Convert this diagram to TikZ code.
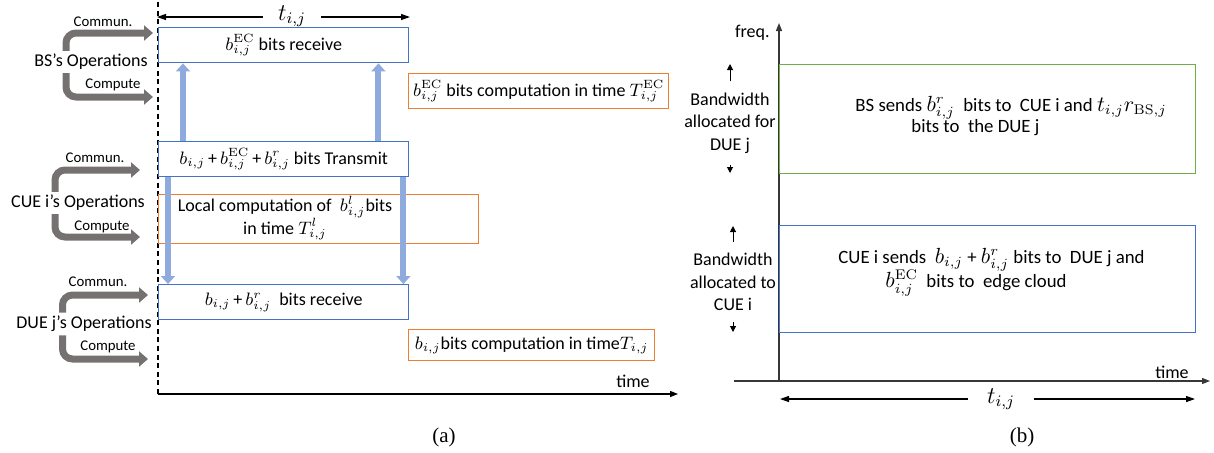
\documentclass[tikz,border=0pt]{standalone}
\usepackage[no-math]{fontspec}
\setmainfont{Carlito}
\newfontfamily\capfont{Liberation Serif}
\usetikzlibrary{arrows.meta,positioning,calc}

\definecolor{boxblue}{RGB}{68,114,196}
\definecolor{boxorange}{RGB}{237,125,49}
\definecolor{boxgreen}{RGB}{112,173,71}
\definecolor{arrblue}{RGB}{143,170,220}
\definecolor{opgray}{RGB}{118,113,113}
\definecolor{axgray}{RGB}{55,55,55}

% slightly larger maths inside the bandwidth boxes
\newcommand{\bmath}[1]{{\fontsize{10.6}{12}\selectfont$#1$}}

\tikzset{
  txt/.style={font=\fontsize{9}{11.25}\selectfont, inner sep=1.5pt},
  bwtxt/.style={font=\fontsize{9.4}{11.25}\selectfont, inner sep=1.5pt, anchor=west},
  small/.style={font=\fontsize{7.4}{9}\selectfont, inner sep=1pt},
  captxt/.style={font=\capfont\fontsize{10.5}{12}\selectfont},
  tlab/.style={font=\fontsize{12}{14}\selectfont, inner sep=0pt, outer sep=0pt},
  opbox/.style={draw=boxblue, line width=0.7pt, anchor=north west, inner sep=0pt,
    font=\fontsize{9}{11.25}\selectfont},
  cpbox/.style={opbox, draw=boxorange},
  gryarr/.style={draw=opgray, line width=3.5pt, rounded corners=5pt,
    -{Triangle[length=4.5pt,width=7.5pt]}},
  bluarr/.style={draw=arrblue, line width=3pt, -{Triangle[length=4pt,width=7pt]}},
  axis/.style={draw=black, line width=0.6pt, -{Triangle[length=4pt,width=3pt]}},
  span/.style={line width=0.6pt, -{Triangle[length=4.5pt,width=3pt]}},
  tick/.style={line width=0.5pt, shorten <=4pt, -{Triangle[length=3pt,width=3pt]}}
}

\begin{document}
\begin{tikzpicture}[x=0.5pt,y=-0.5pt]
\useasboundingbox (0,0) rectangle (1214,452);

% ---------- (a) operations over one slot ----------
\coordinate (tL) at (157,17);
\coordinate (tR) at (410,17);
\coordinate (ta0) at (158,394);
\coordinate (ta1) at (678,394);
\node[tlab, inner xsep=7.5pt] (tij) at (292,16) {$t_{i,j}$};
\draw[span] (tij.west |- tL) -- (tL);
\draw[span] (tij.east |- tR) -- (tR);
\draw[line width=0.6pt, dash pattern=on 2.5pt off 1.8pt] (158,2) -- (ta0);
\draw[axis] (ta0) -- (ta1);
\node[txt] (tatime) at (633,381) {time};

% boxes
\node[opbox, minimum width=125pt, minimum height=17.5pt] (bsrx) at (158,27)
  {$b^{\mathrm{EC}}_{i,j}$ bits receive};
\node[cpbox, minimum width=130pt, minimum height=17.5pt] (bsec) at (408,73)
  {$b^{\mathrm{EC}}_{i,j}$ bits computation in time $T^{\mathrm{EC}}_{i,j}$};
\node[opbox, minimum width=125pt, minimum height=17.5pt] (cuetx) at (158,141)
  {$b_{i,j}$\,+\,$b^{\mathrm{EC}}_{i,j}$\,+\,$b^{r}_{i,j}$ bits Transmit};
\node[cpbox, minimum width=160pt, minimum height=24.5pt] (cueloc) at (158,194) {};
\node[txt, align=center] (cueloctxt) at (285,218)
  {Local computation of\ \ $b^{l}_{i,j}$bits\\in time $T^{l}_{i,j}$};
\node[opbox, minimum width=125pt, minimum height=17.5pt] (duerx) at (158,284)
  {$b_{i,j}$\,+\,$b^{r}_{i,j}$\ \ bits receive};
\node[cpbox, minimum width=123pt, minimum height=15.5pt] (duec) at (408,329)
  {$b_{i,j}$bits computation in time$T_{i,j}$};

% transfers between the devices
\draw[bluarr] ([xshift=12.5pt]cuetx.north west) -- ([xshift=12.5pt]bsrx.south west);
\draw[bluarr] ([xshift=-15.5pt]cuetx.north east) -- ([xshift=-15.5pt]bsrx.south east);
\draw[bluarr] ([xshift=5pt]cuetx.south west) -- ([xshift=5pt]duerx.north west);
\draw[bluarr] ([xshift=-3pt]cuetx.south east) -- ([xshift=-3pt]duerx.north east);

% device labels
\node[txt] (bsop) at (91,62) {BS’s Operations};
\node[txt] (cueop) at (78,203) {CUE i’s Operations};
\node[txt] (dueop) at (84,324) {DUE j’s Operations};
\coordinate (bsC) at (153,33);
\coordinate (bsP) at (153,97);
\coordinate (cueC) at (140,170);
\coordinate (cueP) at (140,237);
\coordinate (dueC) at (148,295);
\coordinate (dueP) at (148,359);
\draw[gryarr] ([xshift=-12.5pt]bsop.north) |- (bsC);
\draw[gryarr] ([xshift=-12.5pt]bsop.south) |- (bsP);
\draw[gryarr] ([xshift=-11.5pt]cueop.north) |- (cueC);
\draw[gryarr] ([xshift=-11.5pt]cueop.south) |- (cueP);
\draw[gryarr] ([xshift=-10.75pt]dueop.north) |- (dueC);
\draw[gryarr] ([xshift=-10.75pt]dueop.south) |- (dueP);
\node[small] (bscom) at (103,22) {Commun.};
\node[small] (bscmp) at (113,85) {Compute};
\node[small] (cuecom) at (95,158) {Commun.};
\node[small] (cuecmp) at (102,227) {Compute};
\node[small] (duecom) at (98,282) {Commun.};
\node[small] (duecmp) at (108,347) {Compute};

\node[captxt] (capa) at (444,437) {(a)};

% ---------- (b) bandwidth split ----------
\coordinate (fO) at (779,381);
\coordinate (fT) at (779,23);
\coordinate (tb0) at (734,381);
\coordinate (tb1) at (1210,381);
\draw[axis, draw=axgray] (fO) -- (fT);
\draw[axis, draw=axgray] (tb0) -- (tb1);
\node[txt, anchor=east] (freq) at (773,33) {freq.};
\node[txt] (tbtime) at (1172,372) {time};

\node[opbox, draw=boxgreen, minimum width=208pt, minimum height=54.5pt] (dueband) at (779,64) {};
\node[bwtxt] (bstxt1) at (852,108)
  {BS sends \bmath{b^{r}_{i,j}}\ \ bits to\ \ CUE i and \bmath{t_{i,j}r_{\mathrm{BS},j}}};
\node[bwtxt] (bstxt2) at (908,128) {bits to\ \ the DUE j};

\node[opbox, minimum width=208pt, minimum height=53.5pt] (cueband) at (779,225) {};
\node[bwtxt] (cuetxt1) at (835,260)
  {CUE i sends\ \ \bmath{b_{i,j}}\ +\ \bmath{b^{r}_{i,j}} bits to\ \ DUE j and};
\node[bwtxt] (cuetxt2) at (882,283) {\bmath{b^{\mathrm{EC}}_{i,j}}\ \ bits to\ \ edge cloud};

\node[txt, align=center] (bwdue) at (730,123) {Bandwidth\\allocated for\\DUE j};
\node[txt, align=center] (bwcue) at (733,282) {Bandwidth\\allocated to\\CUE i};
\coordinate (bwdueU) at (730,64);
\coordinate (bwdueD) at (730,173);
\coordinate (bwcueU) at (733,226);
\coordinate (bwcueD) at (733,332);
\draw[tick] (bwdue.north) -- (bwdueU);
\draw[tick] (bwdue.south) -- (bwdueD);
\draw[tick] (bwcue.north) -- (bwcueU);
\draw[tick] (bwcue.south) -- (bwcueD);

\coordinate (tbL) at (780,399);
\coordinate (tbR) at (1195,399);
\node[tlab, inner xsep=9.5pt] (tbij) at (1001,399) {$t_{i,j}$};
\draw[span] (tbij.west) -- (tbL);
\draw[span] (tbij.east) -- (tbR);

\node[captxt] (capb) at (1022,437) {(b)};
\end{tikzpicture}
\end{document}
